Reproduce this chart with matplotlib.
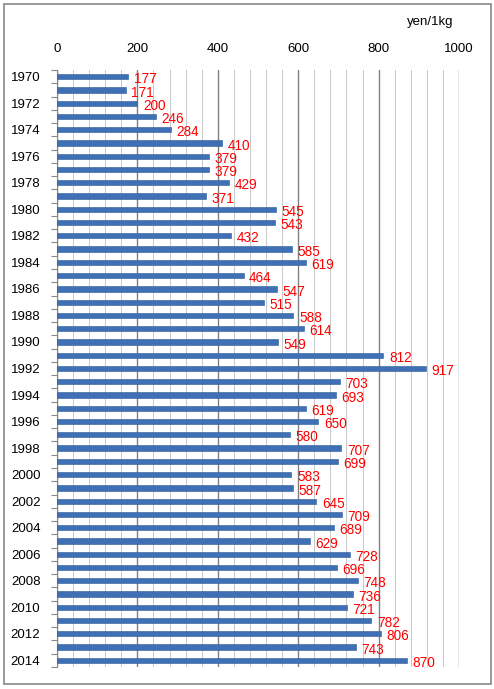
import matplotlib
matplotlib.use("Agg")
import matplotlib.pyplot as plt
from matplotlib.patches import Rectangle
from matplotlib.ticker import MultipleLocator

years = list(range(1970, 2015))
prices = [177, 171, 200, 246, 284, 410, 379, 379, 429, 371,
          545, 543, 432, 585, 619, 464, 547, 515, 588, 614,
          549, 812, 917, 703, 693, 619, 650, 580, 707, 699,
          583, 587, 645, 709, 689, 629, 728, 696, 748, 736,
          721, 782, 806, 743, 870]
unit_label = "yen/1kg"

plt.rcParams['font.family'] = ['Liberation Sans', 'DejaVu Sans']

fig = plt.figure(figsize=(4.94, 6.89), dpi=100)
# outer chart border
fig.patches.append(Rectangle((4 / 494, 5 / 689), 487 / 494, 680 / 689,
                             transform=fig.transFigure, fill=False,
                             edgecolor='#888888', linewidth=1.2))

ax = fig.add_axes([57 / 494, 1 - 667 / 689, 402 / 494, 597 / 689])

pos = list(range(len(years)))
ax.barh(pos, prices, height=0.4, color='#3f6fb5', edgecolor='#2d5a9a',
        linewidth=0.4, zorder=3)

for p, v in zip(pos, prices):
    ax.text(v + 14, p + 0.2, str(v), color='red', fontsize=9.8,
            va='center', ha='left', zorder=4)

ax.set_xlim(0, 1000)
ax.set_ylim(len(years) - 0.5, -0.5)
ax.xaxis.tick_top()
ax.xaxis.set_major_locator(MultipleLocator(200))
ax.xaxis.set_minor_locator(MultipleLocator(40))
ax.grid(axis='x', which='major', color='#808080', linewidth=1.0, zorder=0)
ax.grid(axis='x', which='minor', color='#c8c8c8', linewidth=0.7, zorder=0)
ax.tick_params(axis='x', which='both', length=0, labelsize=9.5, pad=11)

# category boundary ticks on y axis, labels every other year
ax.set_yticks([p - 0.5 for p in pos] + [len(years) - 0.5])
ax.set_yticklabels([])
ax.set_yticks(pos[::2], minor=True)
ax.set_yticklabels([str(y) for y in years[::2]], minor=True)
ax.tick_params(axis='y', which='major', length=4, color='#888888')
ax.tick_params(axis='y', which='minor', length=0, labelsize=9.5, pad=12)

for side in ['right', 'bottom', 'top']:
    ax.spines[side].set_visible(False)
ax.spines['left'].set_color('#888888')

fig.text(430 / 494, 1 - 22 / 689, unit_label, fontsize=9.5,
         ha='center', va='center')

fig.savefig('out.png', dpi=100)
